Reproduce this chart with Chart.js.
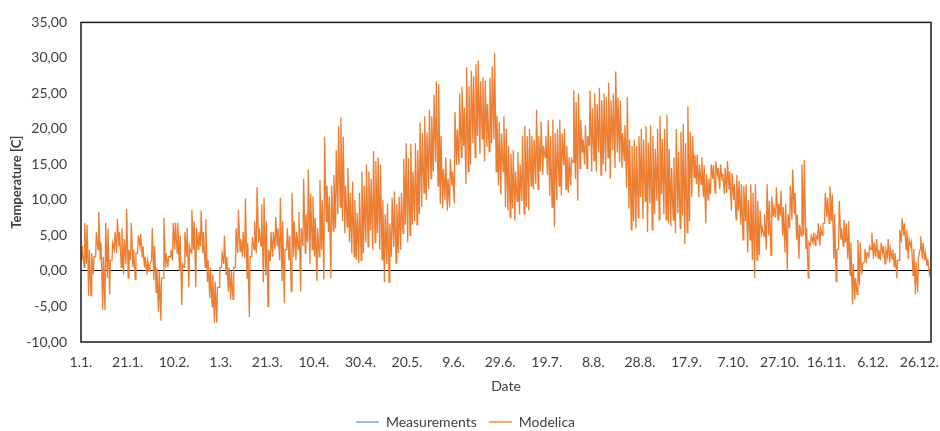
<!DOCTYPE html>
<html>
<head>
<meta charset="utf-8">
<script src="https://cdn.jsdelivr.net/npm/chart.js@4"></script>
<style>
  html, body { margin: 0; padding: 0; background: #fff; }
  #temp-chart { display: block; }
</style>
</head>
<body>
<canvas id="temp-chart" width="940" height="431"></canvas>
<script>
// Outdoor temperature over one year: daily low / daily high in °C
const dayLow = [
    1.5, 0.5, 1.0, -3.5, -3.5, -0.5, 2.0, 3.0, 1.5, -5.5,
    -5.5, -1.0, -3.3, 1.5, 3.0, 2.5, 3.5, 0.5, -0.5, 1.0,
    -1.0, 1.5, 0.5, -1.2, 2.5, 3.5, 2.0, 0.5, -0.5, 0.0,
    1.5, -1.3, -3.0, -5.8, -7.0, -1.0, 0.5, 0.5, 2.0, 1.5,
    3.0, 2.5, 0.0, -4.8, 0.5, 2.0, -2.3, 2.5, 3.0, -2.3,
    3.0, 3.5, 2.5, 0.5, -1.5, -3.8, -5.0, -7.3, -7.3, -2.3,
    0.5, 1.0, -0.5, -2.9, -4.0, -4.0, 0.5, 2.5, 2.8, 2.0,
    1.8, -1.0, -6.5, 2.0, 3.0, 2.5, 4.0, 3.5, -1.6, -0.6,
    -5.0, 1.4, 2.0, 3.0, 3.5, 1.5, -1.4, -4.5, 3.0, 1.5,
    -2.9, 2.0, 1.5, 3.0, -2.9, 3.5, 2.5, 4.0, 1.0, 3.0,
    2.0, -1.4, 2.0, 3.0, -1.2, 7.0, 5.5, -1.0, 5.6, 6.0,
    8.0, 9.0, 7.0, 5.3, 6.2, 4.0, 2.5, 2.0, 1.5, 1.1,
    1.5, 2.5, 4.0, 3.4, 5.7, 3.0, 4.0, 5.3, 3.0, 1.6,
    -1.6, 1.0, -1.6, 2.0, 3.4, 1.1, 2.5, 3.0, 5.3, 6.5,
    4.0, 5.0, 6.5, 7.0, 6.5, 8.0, 9.0, 11.0, 10.0, 11.5,
    13.0, 14.0, 15.3, 12.0, 9.4, 8.8, 10.0, 8.5, 9.0, 12.0,
    9.5, 14.9, 15.0, 16.0, 17.6, 12.2, 14.0, 15.0, 18.0, 16.0,
    19.0, 16.5, 18.6, 15.4, 17.5, 16.8, 18.0, 18.5, 14.0, 12.0,
    10.8, 14.0, 9.0, 8.5, 7.5, 8.8, 7.1, 9.8, 8.0, 9.8,
    8.0, 9.0, 8.5, 12.0, 11.5, 12.3, 11.5, 14.0, 13.5, 16.0,
    13.5, 10.6, 9.0, 6.2, 10.0, 12.0, 10.6, 14.9, 11.5, 11.0,
    12.0, 15.3, 13.0, 9.9, 14.4, 16.7, 15.0, 14.4, 17.6, 14.0,
    15.5, 14.0, 16.7, 13.5, 15.0, 14.0, 16.0, 13.0, 17.0, 14.5,
    16.7, 15.3, 14.5, 15.5, 11.7, 8.8, 5.8, 7.0, 6.0, 7.5,
    10.4, 7.3, 9.8, 5.5, 9.5, 5.8, 8.0, 9.9, 7.2, 10.8,
    8.0, 7.2, 6.7, 6.3, 7.2, 5.3, 8.1, 6.0, 7.8, 3.8,
    5.4, 7.0, 10.4, 13.2, 12.2, 10.4, 12.2, 10.4, 6.7, 10.0,
    10.8, 13.0, 11.0, 13.6, 11.5, 12.8, 10.8, 11.0, 11.5, 8.5,
    10.0, 7.2, 8.5, 6.5, 4.4, 7.0, 2.6, 4.4, 1.5, -1.0,
    1.5, 2.2, 5.3, 4.9, 3.0, 5.0, 2.2, 7.6, 7.5, 7.2,
    7.8, 5.0, 2.6, 0.1, 6.0, 7.2, 8.0, 4.4, 1.7, 4.9,
    5.0, 3.1, -1.0, 3.6, 4.0, 3.6, 4.5, 3.6, 5.0, 6.7,
    7.6, 6.7, 7.0, 1.7, -1.5, 3.1, 4.4, 3.5, 4.0, 1.7,
    -0.6, -4.7, -4.0, -3.3, -2.0, -0.5, 1.3, 1.5, 2.0, 3.0,
    1.7, 2.0, 1.8, 1.5, 2.5, 1.0, 2.0, 1.2, 1.7, 0.5,
    -1.0, 1.5, 4.0, 5.0, 3.0, 1.7, 3.5, -0.6, -3.3, -3.0,
    3.0, 1.7, 1.5, 0.8, -0.4
];

const dayHigh = [
    3.5, 6.8, 6.5, 3.0, 2.5, 2.0, 5.5, 8.3, 4.0, 2.0,
    6.8, 6.0, 1.5, 4.0, 5.5, 7.3, 5.5, 6.0, 4.5, 8.7,
    3.0, 6.8, 3.0, 2.5, 5.0, 5.2, 3.5, 2.0, 1.5, 1.0,
    6.0, 3.5, 0.5, 0.0, -1.0, 7.5, 2.5, 2.0, 3.0, 6.8,
    6.8, 6.8, 5.0, 1.0, 5.5, 6.1, 3.5, 8.6, 7.0, 6.1,
    5.5, 8.5, 5.5, 7.3, 1.5, 0.5, -0.5, -1.5, -2.3, 0.5,
    2.5, 5.0, 2.0, 0.5, 0.0, 0.5, 6.0, 8.6, 4.5, 5.5,
    10.2, 4.0, 2.0, 4.8, 7.0, 11.8, 6.0, 9.4, 10.3, 7.0,
    3.0, 5.5, 5.5, 7.6, 6.0, 10.3, 7.0, 3.0, 6.0, 5.0,
    11.0, 7.0, 5.5, 8.3, 6.0, 13.0, 8.0, 14.3, 10.8, 10.5,
    7.5, 6.0, 12.8, 10.0, 18.9, 12.0, 10.5, 12.0, 13.5, 17.0,
    20.4, 21.6, 18.9, 12.0, 14.5, 11.0, 12.6, 10.0, 8.2, 11.0,
    14.0, 12.0, 15.0, 14.0, 13.0, 16.9, 15.5, 16.0, 15.0, 10.0,
    8.0, 9.5, 6.7, 10.3, 11.2, 9.4, 10.5, 11.0, 15.8, 18.0,
    15.9, 17.9, 14.0, 18.0, 17.0, 20.9, 19.4, 21.8, 19.5, 22.7,
    21.8, 24.8, 26.7, 26.3, 19.0, 14.4, 16.0, 13.0, 15.8, 14.0,
    22.4, 19.9, 25.0, 25.9, 23.0, 28.7, 26.0, 28.2, 27.5, 29.1,
    29.6, 26.7, 27.3, 26.8, 23.5, 27.2, 28.8, 30.7, 21.9, 21.0,
    19.4, 21.8, 20.0, 17.6, 16.5, 17.0, 14.0, 16.7, 15.0, 19.0,
    20.4, 19.0, 20.0, 19.0, 18.5, 22.7, 19.0, 21.0, 17.6, 19.0,
    21.3, 19.0, 21.3, 19.4, 20.0, 21.3, 19.4, 20.0, 17.6, 16.0,
    15.8, 25.4, 23.8, 25.0, 21.3, 18.5, 20.5, 19.0, 25.4, 22.9,
    25.0, 23.5, 25.8, 24.0, 25.0, 24.5, 26.5, 24.0, 25.0, 28.1,
    24.4, 24.0, 19.4, 20.5, 24.5, 18.5, 17.6, 18.5, 17.6, 19.0,
    20.0, 18.5, 20.4, 18.1, 20.5, 19.0, 17.2, 20.0, 21.8, 18.6,
    20.0, 22.0, 17.2, 14.5, 16.0, 20.0, 16.8, 19.6, 20.7, 18.0,
    23.2, 19.6, 19.0, 16.4, 16.4, 15.0, 16.0, 14.9, 13.7, 13.0,
    15.0, 14.9, 15.4, 14.5, 15.0, 13.7, 14.5, 15.5, 14.0, 13.8,
    12.2, 13.5, 12.7, 12.2, 12.0, 12.2, 10.0, 12.2, 11.0, 12.2,
    9.9, 8.5, 6.0, 8.0, 12.2, 9.9, 10.5, 9.0, 11.8, 9.5,
    11.3, 9.0, 9.5, 8.0, 12.0, 14.3, 11.0, 8.0, 6.5, 15.0,
    15.6, 6.0, 4.0, 4.9, 5.4, 5.0, 6.7, 6.0, 6.7, 11.0,
    10.3, 11.9, 10.8, 8.0, 3.0, 9.9, 6.0, 7.2, 6.7, 7.0,
    4.0, 1.0, -1.0, 4.4, 4.0, 1.0, 3.1, 2.5, 3.5, 5.4,
    4.0, 4.5, 3.0, 4.0, 3.5, 3.1, 4.5, 3.1, 3.0, 2.5,
    1.5, 5.8, 7.4, 6.7, 5.8, 4.5, 4.0, 3.1, 1.3, 2.0,
    4.9, 4.0, 2.5, 1.7, 0.3
];

// category labels every 20 days, starting at 1 January
const tickLabels = ['1.1.', '21.1.', '10.2.', '1.3.', '21.3.', '10.4.', '30.4.', '20.5.', '9.6.', '29.6.',
    '19.7.', '8.8.', '28.8.', '17.9.', '7.10.', '27.10.', '16.11.', '6.12.', '26.12.'];

const seriesNames = ['Measurements', 'Modelica'];
const seriesColors = ['#5B9BD5', '#ED7D31'];

// low in the early morning, high in the afternoon
const modelPoints = [];
dayLow.forEach((lo, d) => {
    modelPoints.push({ x: d + 0.3, y: lo });
    modelPoints.push({ x: d + 0.6, y: dayHigh[d] });
});
// the measured curve lies completely under the model curve, nothing of it shows
const measuredPoints = [];

const textColor = '#404040';
Chart.defaults.font.family = 'Lato, "Open Sans", sans-serif';
Chart.defaults.color = textColor;

// frame around the plot area
const plotFrame = {
    id: 'plotFrame',
    afterDatasetsDraw(chart) {
        const { ctx, chartArea: a } = chart;
        ctx.save();
        ctx.strokeStyle = '#1a1a1a';
        ctx.lineWidth = 1.5;
        ctx.strokeRect(a.left, a.top, a.right - a.left, a.bottom - a.top);
        ctx.restore();
    }
};

new Chart(document.getElementById('temp-chart'), {
    type: 'line',
    data: {
        datasets: [measuredPoints, modelPoints].map((pts, i) => ({
            label: seriesNames[i],
            data: pts,
            borderColor: seriesColors[i],
            backgroundColor: seriesColors[i],
            borderWidth: 1.3,
            pointRadius: 0,
            tension: 0
        }))
    },
    options: {
        responsive: false,
        animation: false,
        devicePixelRatio: 1,
        layout: { padding: { left: 0, right: 9, top: 14, bottom: -8 } },
        plugins: {
            tooltip: { enabled: false },
            legend: {
                position: 'bottom',
                labels: {
                    usePointStyle: true,
                    pointStyle: 'line',
                    pointStyleWidth: 23,
                    padding: 12,
                    font: { size: 14 },
                    color: textColor
                }
            }
        },
        scales: {
            x: {
                type: 'linear',
                min: 0,
                max: 365,
                // invisible tick marks only push the labels down
                grid: { display: false, drawTicks: true, tickLength: 12 },
                border: { display: false },
                ticks: {
                    stepSize: 20,
                    autoSkip: false,
                    includeBounds: false,
                    maxRotation: 0,
                    padding: 0,
                    font: { size: 14 },
                    callback: v => tickLabels[Math.round(v / 20)] ?? ''
                },
                title: {
                    display: true,
                    text: 'Date',
                    font: { size: 14 },
                    padding: { top: 4, bottom: 8 }
                },
                afterFit: s => { s.height = 61; }
            },
            y: {
                min: -10,
                max: 35,
                grid: {
                    drawTicks: false,
                    color: c => c.tick.value === 0 ? '#000' : 'rgba(0,0,0,0)',
                    lineWidth: 1
                },
                border: { display: false },
                ticks: {
                    stepSize: 5,
                    padding: 14,
                    font: { size: 14 },
                    callback: v => v.toFixed(2).replace('.', ',')
                },
                title: {
                    display: true,
                    text: 'Temperature [C]',
                    font: { size: 13, weight: 'bold' },
                    padding: { top: 9, bottom: 0 }
                },
                afterFit: s => { s.width = 81; }
            }
        }
    },
    plugins: [plotFrame]
});
</script>
</body>
</html>
